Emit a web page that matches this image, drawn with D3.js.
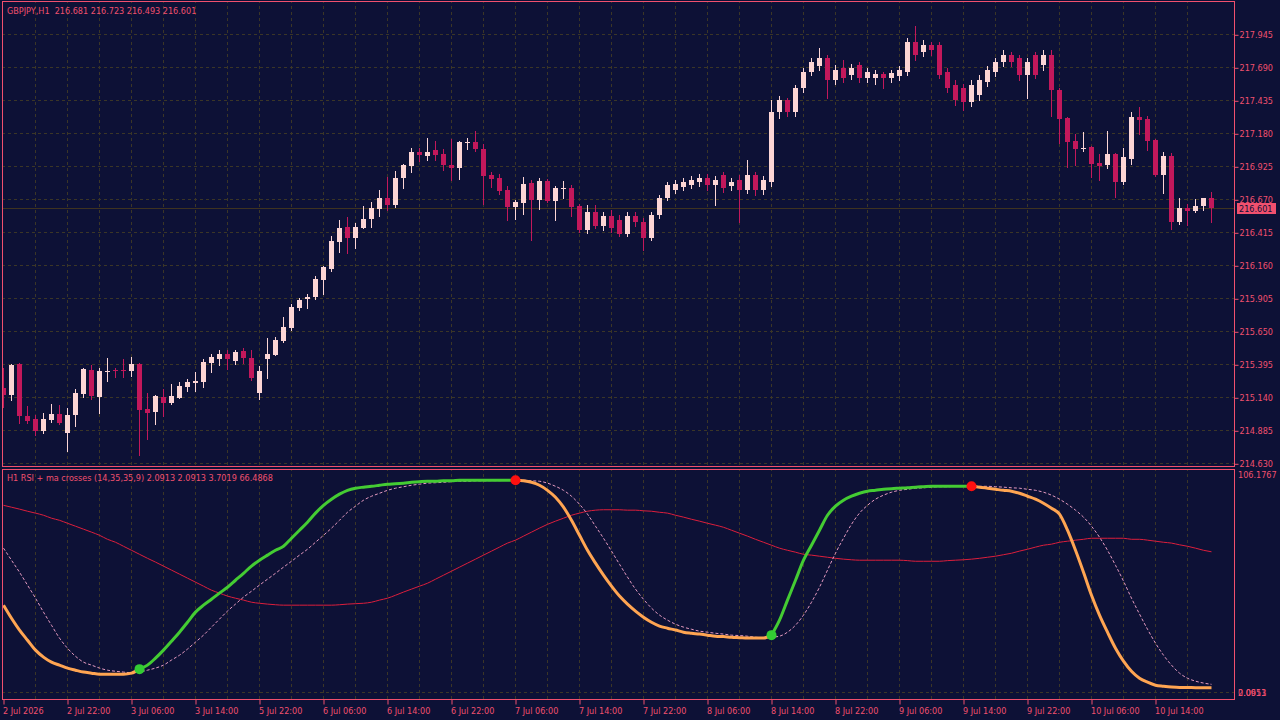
<!DOCTYPE html>
<html>
<head>
<meta charset="utf-8">
<script src="https://cdn.jsdelivr.net/npm/d3@7"></script>
<style>
body{margin:0;background:#0d1136;}
svg{display:block;}
text{font-family:"DejaVu Sans Condensed","Liberation Sans",Arial,sans-serif;font-size:9px;fill:#f0506e;}
</style>
</head>
<body>
<svg id="chart" width="1280" height="720"></svg>
<script>
// GBPJPY H1 candles, bar 0 = 2 Jul 2026 14:00
var open = [215.212,215.158,215.397,214.996,214.972,214.880,214.965,215.011,214.865,215.003,
215.166,215.351,215.142,215.336,215.351,215.351,215.343,215.397,215.050,215.026,
215.142,215.096,215.135,215.220,215.251,215.259,215.405,215.436,215.475,215.421,
215.498,215.444,215.173,215.436,215.467,215.575,215.676,215.830,215.900,215.915,
216.046,216.131,216.340,216.456,216.371,216.448,216.518,216.595,216.680,216.626,
216.835,216.927,217.036,217.005,217.051,217.020,216.935,216.912,217.105,217.113,
217.059,216.858,216.835,216.742,216.610,216.641,216.796,216.665,216.812,216.657,
216.750,216.757,216.618,216.433,216.572,216.464,216.541,216.510,216.402,216.541,
216.495,216.371,216.549,216.680,216.742,216.765,216.781,216.804,216.835,216.781,
216.858,216.773,216.819,216.742,216.858,216.742,216.804,217.345,217.437,217.345,
217.530,217.654,217.700,217.762,217.592,217.685,217.631,217.708,217.607,217.607,
217.638,217.607,217.623,217.654,217.886,217.808,217.862,217.862,217.654,217.553,
217.530,217.422,217.476,217.577,217.654,217.731,217.785,217.762,217.631,217.785,
217.708,217.785,217.515,217.298,217.121,217.059,217.074,216.950,216.935,217.020,
216.804,216.981,217.306,217.291,217.128,216.858,217.005,216.495,216.603,216.580,
216.618,216.681];
var high = [215.367,215.397,215.405,215.073,215.003,215.019,215.088,215.081,215.057,215.204,
215.367,215.390,215.367,215.444,215.367,215.436,215.451,215.405,215.173,215.158,
215.204,215.243,215.259,215.282,215.336,215.436,215.475,215.505,215.505,215.505,
215.521,215.505,215.382,215.598,215.606,215.761,215.861,215.907,215.938,216.077,
216.155,216.386,216.510,216.533,216.487,216.618,216.649,216.742,216.842,216.889,
216.943,217.066,217.066,217.144,217.121,217.059,217.136,217.121,217.144,217.198,
217.097,216.881,216.866,216.773,216.665,216.842,216.819,216.835,216.827,216.773,
216.812,216.781,216.634,216.626,216.626,216.572,216.587,216.549,216.572,216.572,
216.526,216.572,216.703,216.804,216.819,216.835,216.850,216.866,216.866,216.850,
216.881,216.835,216.858,216.974,216.881,216.850,217.437,217.468,217.453,217.553,
217.685,217.762,217.839,217.785,217.708,217.747,217.716,217.731,217.685,217.669,
217.654,217.669,217.700,217.917,218.009,217.901,217.886,217.886,217.685,217.592,
217.561,217.592,217.631,217.700,217.762,217.824,217.808,217.785,217.762,217.808,
217.824,217.824,217.530,217.306,217.174,217.190,217.082,217.020,217.198,217.028,
217.066,217.345,217.383,217.314,217.136,217.036,217.028,216.680,216.634,216.672,
216.680,216.723];
var low = [215.065,215.119,214.942,214.942,214.849,214.865,214.949,214.934,214.725,214.918,
215.142,215.127,215.019,215.266,215.297,215.297,215.305,214.694,214.818,214.934,
214.996,215.088,215.135,215.189,215.189,215.220,215.336,215.390,215.359,215.397,
215.405,215.274,215.127,215.289,215.467,215.567,215.660,215.815,215.830,215.900,
215.938,216.116,216.263,216.255,216.294,216.448,216.456,216.541,216.587,216.610,
216.759,216.881,216.966,216.974,216.974,216.897,216.819,216.827,217.059,217.043,
216.634,216.765,216.711,216.510,216.518,216.556,216.356,216.595,216.649,216.510,
216.680,216.541,216.417,216.409,216.448,216.433,216.417,216.386,216.386,216.464,
216.278,216.356,216.526,216.665,216.719,216.742,216.757,216.773,216.742,216.626,
216.726,216.742,216.495,216.719,216.703,216.711,216.773,217.298,217.314,217.314,
217.499,217.631,217.669,217.453,217.561,217.577,217.600,217.577,217.577,217.561,
217.530,217.577,217.592,217.631,217.747,217.777,217.785,217.607,217.499,217.399,
217.360,217.391,217.437,217.546,217.623,217.700,217.700,217.592,217.453,217.607,
217.669,217.314,217.105,216.920,216.935,217.043,216.842,216.819,216.912,216.688,
216.788,216.943,217.174,217.051,216.850,216.719,216.441,216.479,216.472,216.572,
216.587,216.493];
var close = [215.158,215.390,214.996,214.957,214.880,214.972,215.011,214.942,215.003,215.173,
215.359,215.150,215.343,215.343,215.343,215.343,215.397,215.042,215.019,215.150,
215.096,215.150,215.228,215.259,215.266,215.413,215.451,215.475,215.436,215.490,
215.444,215.289,215.343,215.475,215.583,215.683,215.838,215.892,215.915,216.054,
216.147,216.348,216.448,216.371,216.456,216.518,216.603,216.680,216.626,216.835,
216.935,217.036,217.013,217.036,217.013,216.935,216.912,217.113,217.113,217.059,
216.850,216.827,216.734,216.610,216.649,216.788,216.665,216.812,216.657,216.757,
216.757,216.610,216.433,216.572,216.464,216.541,216.448,216.402,216.541,216.495,
216.371,216.549,216.680,216.781,216.788,216.804,216.819,216.835,216.781,216.819,
216.757,216.804,216.742,216.858,216.742,216.819,217.345,217.437,217.345,217.530,
217.654,217.731,217.762,217.592,217.669,217.607,217.685,217.607,217.654,217.638,
217.607,217.646,217.669,217.886,217.785,217.862,217.824,217.631,217.530,217.437,
217.422,217.553,217.592,217.669,217.731,217.785,217.731,217.631,217.731,217.631,
217.785,217.515,217.291,217.113,217.059,217.066,216.943,216.927,217.020,216.804,
216.997,217.306,217.283,217.121,216.858,217.005,216.495,216.603,216.580,216.618,
216.680,216.601];

// indicator buffers: RSI line, its signal (dashed) and the slow average
var rsiLine = [41.2,35.0,29.4,24.6,19.9,16.6,14.2,12.8,11.4,10.4,
9.5,9.0,8.5,8.5,8.5,8.5,9.0,10.9,12.8,16.1,
19.9,24.1,28.4,33.1,37.9,41.2,44.0,46.9,49.7,53.0,
56.3,59.7,62.5,64.9,67.2,69.1,72.9,76.7,80.5,84.8,
88.5,91.4,93.8,95.6,96.6,97.1,97.5,98.0,98.5,98.7,
99.0,99.4,99.7,99.9,99.9,100.1,100.1,100.4,100.4,100.4,
100.4,100.4,100.4,100.4,100.4,100.1,99.4,98.0,95.6,92.3,
87.6,81.4,74.3,67.2,61.1,55.4,50.2,45.5,41.7,38.4,
35.5,33.1,31.3,30.3,29.4,28.4,27.9,27.5,27.0,26.5,
26.3,26.0,25.8,25.6,25.6,25.6,27.0,34.1,43.6,53.0,
62.5,69.6,76.7,83.8,88.1,90.9,92.8,94.2,95.2,95.6,
96.1,96.4,96.6,96.8,97.1,97.3,97.5,97.5,97.5,97.5,
97.5,97.5,97.1,96.6,96.1,95.6,95.2,94.2,92.8,91.4,
89.5,87.1,84.3,76.7,67.2,56.8,45.9,36.5,28.4,20.8,
14.7,9.9,6.6,4.7,3.3,2.8,2.4,2.2,2.2,2.1,
2.1,2.0913];
var signalLine = [68.2,62.5,56.8,50.7,44.5,37.9,31.7,25.6,20.8,17.0,
14.2,12.8,11.4,10.4,9.9,9.5,9.2,9.5,10.4,11.4,
12.8,15.2,17.5,20.4,23.7,27.0,30.8,34.6,38.4,41.7,
45.0,47.8,50.7,53.5,56.3,59.2,62.0,64.9,67.7,71.0,
74.3,77.7,81.4,85.2,88.1,90.9,92.8,94.2,95.6,96.6,
97.3,98.0,98.5,99.0,99.2,99.4,99.7,99.9,99.9,100.1,
100.1,100.2,100.2,100.3,100.4,100.4,100.1,99.9,99.0,97.5,
95.6,92.8,89.0,84.3,78.6,72.9,66.8,60.6,54.5,48.8,
44.0,39.8,36.5,34.1,32.2,30.8,29.8,28.9,28.4,27.9,
27.5,27.0,26.8,26.5,26.0,25.8,26.0,26.5,28.4,31.7,
36.5,42.6,49.7,57.8,65.8,72.9,79.5,84.8,88.5,91.4,
93.3,94.7,95.6,96.1,96.6,96.8,97.1,97.3,97.3,97.5,
97.5,97.5,97.5,97.5,97.3,97.1,96.8,96.6,96.1,95.6,
94.7,93.3,91.4,89.0,86.2,82.9,78.6,73.4,67.2,60.1,
52.6,44.5,37.0,29.8,23.2,17.5,12.8,9.0,6.6,5.2,
4.3,3.7019];
var slowLine = [88.5,87.6,86.7,85.7,84.8,83.8,82.4,81.4,80.0,78.6,
77.2,75.8,74.3,72.4,71.0,69.1,67.2,65.3,63.4,61.6,
59.7,57.8,55.9,54.0,52.1,50.2,48.3,46.9,45.5,44.5,
43.6,42.6,42.1,41.7,41.4,41.2,41.2,41.2,41.2,41.2,
41.2,41.2,41.4,41.7,41.9,42.1,42.6,43.6,44.5,45.9,
47.4,48.8,50.2,51.6,53.5,55.4,57.3,59.2,61.1,63.0,
64.9,66.8,68.7,70.6,72.0,73.9,75.8,77.7,79.5,81.0,
82.4,83.8,84.8,85.7,86.2,86.4,86.4,86.4,86.2,86.2,
85.9,85.7,85.2,84.8,83.8,82.9,81.9,81.0,80.0,79.1,
78.1,76.7,75.3,73.9,72.4,71.0,69.6,68.2,67.2,66.3,
65.3,64.9,64.4,63.9,63.4,63.0,62.7,62.5,62.5,62.5,
62.5,62.5,62.5,62.3,62.0,62.0,62.0,62.0,62.3,62.5,
62.7,63.0,63.4,63.9,64.4,65.1,65.8,66.8,67.7,68.7,
69.6,70.1,71.0,71.5,72.0,72.4,72.9,72.9,72.9,72.9,
72.9,72.4,72.4,72.0,71.5,71.0,70.6,69.8,69.1,68.2,
67.2,66.4868];
var upCross = [17, 96];
var downCross = [64, 121];

var priceTicks = [217.945,217.690,217.435,217.180,216.925,216.670,216.415,216.160,215.905,215.650,215.395,215.140,214.885,214.630];
var timeTickBars = [0,8,16,24,32,40,48,56,64,72,80,88,96,104,112,120,128,136,144];
var timeTickLabels = ["2 Jul 2026","2 Jul 22:00","3 Jul 06:00","3 Jul 14:00","5 Jul 22:00","6 Jul 06:00","6 Jul 14:00","6 Jul 22:00","7 Jul 06:00","7 Jul 14:00","7 Jul 22:00","8 Jul 06:00","8 Jul 14:00","8 Jul 22:00","9 Jul 06:00","9 Jul 14:00","9 Jul 22:00","10 Jul 06:00","10 Jul 14:00"];
var indMin = 0.0651, indMax = 106.1767;
var bid = 216.601;

var W = 1280, H = 720;
var fg = "#f0506e", grid = "#3b3627";
var bullCol = "#fcd5d5", bearCol = "#c2185b";
var left = 2, right = 1234, mainTop = 1, mainBot = 466, indTop = 469, indBot = 699;

var svg = d3.select("#chart");
svg.append("rect").attr("width", W).attr("height", H).attr("fill", "#0d1136");

var defs = svg.append("defs");
defs.append("clipPath").attr("id", "clipMain").append("rect")
    .attr("x", left).attr("y", mainTop).attr("width", right - left).attr("height", mainBot - mainTop);
defs.append("clipPath").attr("id", "clipInd").append("rect")
    .attr("x", left).attr("y", indTop).attr("width", right - left).attr("height", indBot - indTop);

var bars = d3.range(open.length);
var x = d3.scaleLinear().domain([0, 151]).range([3.5, 1211.5]);
var y = d3.scaleLinear().domain([214.630, 217.945]).range([463.3, 34.3]);
var yi = d3.scaleLinear().domain([indMin, indMax]).range([692, 468]);

function px(v){ return Math.round(v) + 0.5; }

// grid
var gridBars = bars.filter(function(i){ return i % 4 == 0 && i > 0; });
var gMain = svg.append("g").attr("clip-path", "url(#clipMain)");
var gInd = svg.append("g").attr("clip-path", "url(#clipInd)");

gMain.selectAll(".hgrid").data(priceTicks).enter().append("line")
    .attr("x1", left).attr("x2", right)
    .attr("y1", function(d){ return px(y(d)); }).attr("y2", function(d){ return px(y(d)); })
    .attr("stroke", grid).attr("stroke-dasharray", "3,3");
[gMain, gInd].forEach(function(g){
    g.selectAll(".vgrid").data(gridBars).enter().append("line")
        .attr("x1", function(i){ return x(i); }).attr("x2", function(i){ return x(i); })
        .attr("y1", 0).attr("y2", H)
        .attr("stroke", grid).attr("stroke-dasharray", "3,3");
});
gInd.append("line")
    .attr("x1", left).attr("x2", right)
    .attr("y1", px(yi(indMin))).attr("y2", px(yi(indMin)))
    .attr("stroke", grid).attr("stroke-dasharray", "3,3");

// bid line
gMain.append("line")
    .attr("x1", left).attr("x2", right)
    .attr("y1", px(y(bid))).attr("y2", px(y(bid)))
    .attr("stroke", "#3f3320");

// candles
function isBull(i){ return close[i] >= open[i]; }
gMain.selectAll(".wick").data(bars).enter().append("line")
    .attr("x1", function(i){ return x(i); }).attr("x2", function(i){ return x(i); })
    .attr("y1", function(i){ return Math.round(y(high[i])); })
    .attr("y2", function(i){ return Math.round(y(low[i])) + 1; })
    .attr("stroke", function(i){ return isBull(i) ? bullCol : bearCol; });
gMain.selectAll(".body").data(bars).enter().append("rect")
    .attr("x", function(i){ return x(i) - 2.5; })
    .attr("width", 5)
    .attr("y", function(i){ return Math.round(y(Math.max(open[i], close[i]))); })
    .attr("height", function(i){
        var t = Math.round(y(Math.max(open[i], close[i])));
        var b = Math.round(y(Math.min(open[i], close[i])));
        return Math.max(1, b - t);
    })
    .attr("fill", function(i){ return isBull(i) ? bullCol : bearCol; });

// indicator lines
var line = d3.line()
    .x(function(d){ return x(d.i); })
    .y(function(d){ return yi(d.v); })
    .curve(d3.curveMonotoneX);
function pts(arr, a, b){
    return d3.range(a, b + 1).map(function(i){ return {i: i, v: arr[i]}; });
}

gInd.append("path").datum(pts(slowLine, 0, 151))
    .attr("d", line).attr("fill", "none").attr("stroke", "#dc1e3c").attr("stroke-width", 1);
gInd.append("path").datum(pts(signalLine, 0, 151))
    .attr("d", line).attr("fill", "none").attr("stroke", "#e59ac0")
    .attr("stroke-width", 1).attr("stroke-dasharray", "3,2");

var crosses = upCross.concat(downCross).sort(d3.ascending);
var edges = [0].concat(crosses).concat([151]);
for (var k = 0; k < edges.length - 1; k++) {
    var up = upCross.indexOf(edges[k]) >= 0;
    if (k == 0) up = upCross.indexOf(crosses[0]) < 0;
    gInd.append("path").datum(pts(rsiLine, edges[k], edges[k + 1]))
        .attr("d", line).attr("fill", "none")
        .attr("stroke", up ? "#44cc33" : "#ffa552")
        .attr("stroke-width", 3).attr("stroke-linejoin", "round");
}
gInd.selectAll(".dot").data(crosses).enter().append("circle")
    .attr("cx", function(i){ return x(i); })
    .attr("cy", function(i){ return yi(rsiLine[i]); })
    .attr("r", 5)
    .attr("fill", function(i){ return upCross.indexOf(i) >= 0 ? "#33cc33" : "#ff1010"; });

// frames
svg.append("rect").attr("x", left + 0.5).attr("y", mainTop + 0.5)
    .attr("width", right - left).attr("height", mainBot - mainTop)
    .attr("fill", "none").attr("stroke", fg);
svg.append("rect").attr("x", left + 0.5).attr("y", indTop + 0.5)
    .attr("width", right - left).attr("height", indBot - indTop)
    .attr("fill", "none").attr("stroke", fg);

// price axis
var yAxis = d3.axisRight(y).tickValues(priceTicks).tickSize(4).tickPadding(2)
    .tickFormat(d3.format(".3f"));
var ga = svg.append("g").attr("transform", "translate(" + (right + 0.5) + ",0)").call(yAxis);
ga.select(".domain").remove();
ga.selectAll(".tick line").attr("stroke", fg).attr("transform", "translate(0,0.5)");
ga.selectAll(".tick text").attr("fill", fg).attr("font-family", null).attr("font-size", null)
    .attr("dy", "0.36em").attr("x", 5);

// bid label
svg.append("rect").attr("x", right + 3).attr("y", Math.round(y(bid)) - 5)
    .attr("width", 39).attr("height", 11).attr("fill", fg);
svg.append("text").attr("x", right + 5).attr("y", Math.round(y(bid)) + 4)
    .style("fill", "#0d1136").text(d3.format(".3f")(bid));

// indicator scale labels
svg.append("text").attr("x", right + 4).attr("y", 478).text(indMax.toFixed(4));
svg.append("text").attr("x", right + 4).attr("y", 696).text(rsiLine[151].toFixed(4));
svg.append("text").attr("x", right + 4).attr("y", 696).text(indMin.toFixed(4));

// time axis
var xAxis = d3.axisBottom(x).tickValues(timeTickBars).tickSize(5).tickPadding(3)
    .tickFormat(function(d, i){ return timeTickLabels[i]; });
var gx = svg.append("g").attr("transform", "translate(0," + (indBot + 0.5) + ")").call(xAxis);
gx.select(".domain").remove();
gx.selectAll(".tick line").attr("stroke", fg);
gx.selectAll(".tick text").attr("fill", fg).attr("font-family", null).attr("font-size", null)
    .attr("text-anchor", "start").attr("dx", "-1");

// titles
var fmt = d3.format(".3f");
svg.append("text").attr("x", 7).attr("y", 14).style("white-space", "pre")
    .text("GBPJPY,H1  " + [open[151], high[151], low[151], close[151]].map(fmt).join(" "));
svg.append("text").attr("x", 7).attr("y", 481)
    .text("H1 RSI + ma crosses (14,35,35,9) " + [rsiLine[151], rsiLine[151], signalLine[151], slowLine[151]]
        .map(function(v){ return v.toFixed(4); }).join(" "));
</script>
</body>
</html>
